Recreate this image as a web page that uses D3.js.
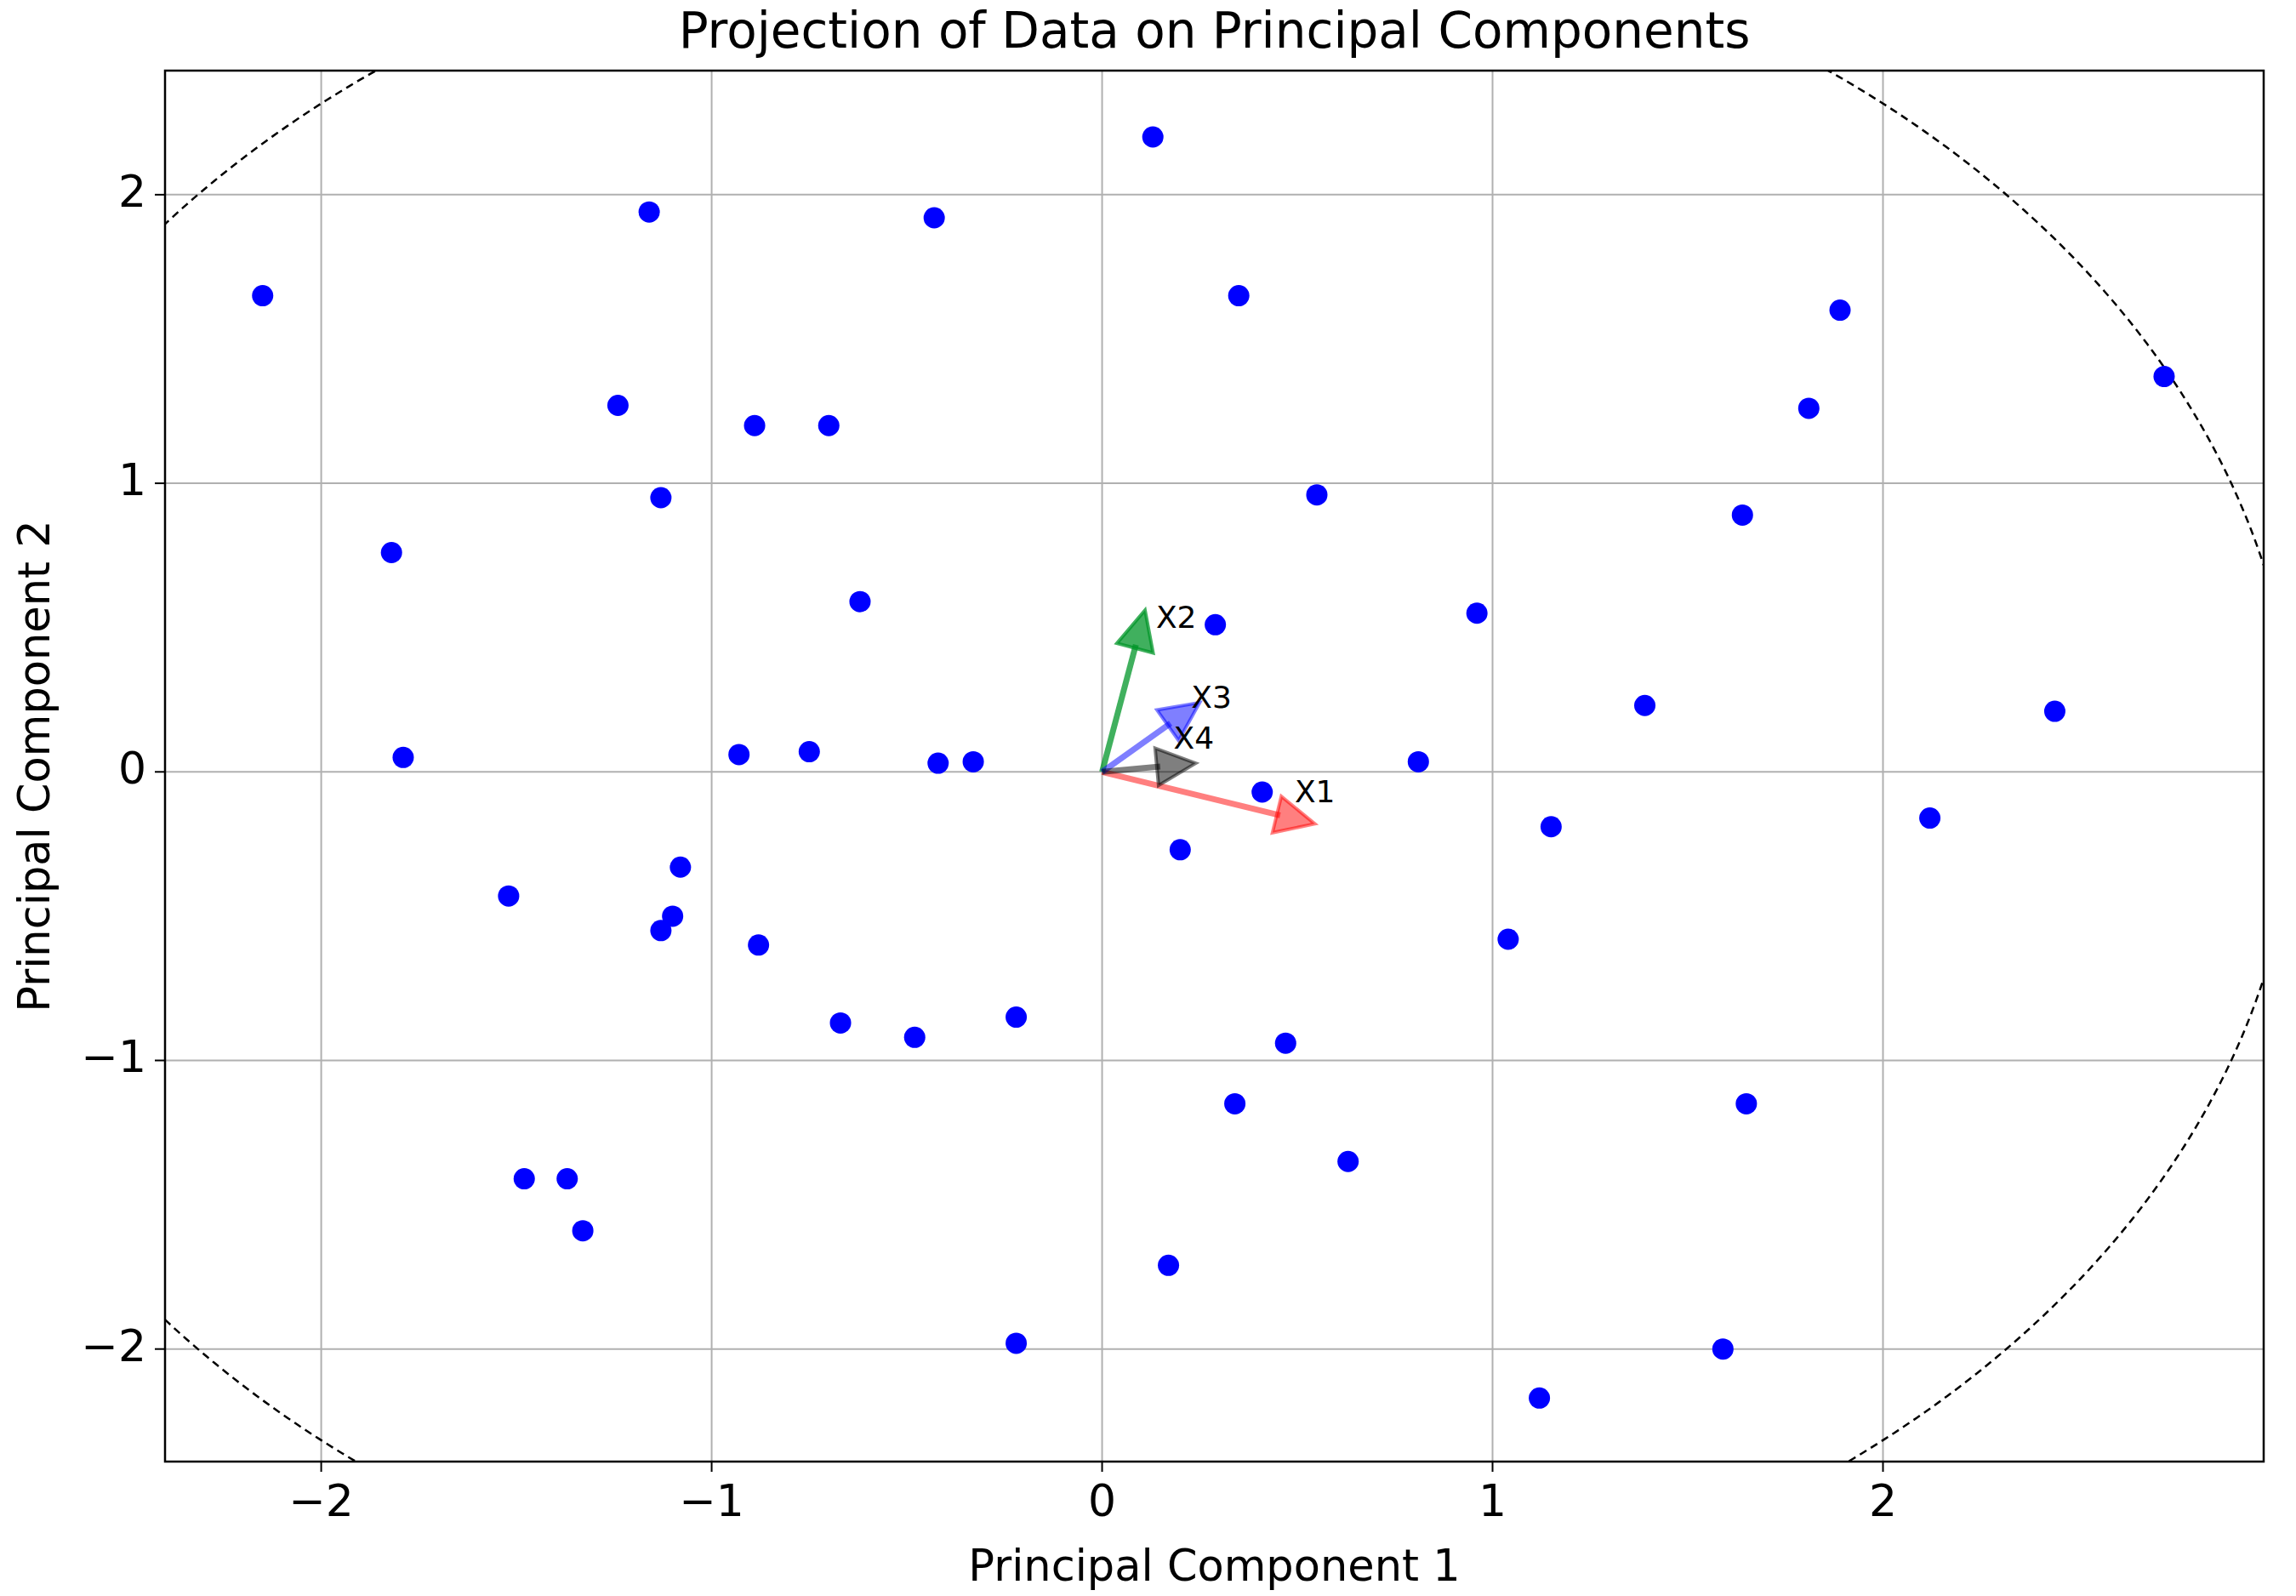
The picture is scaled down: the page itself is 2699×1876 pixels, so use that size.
<!DOCTYPE html><html><head><meta charset="utf-8">
<script src="https://cdn.jsdelivr.net/npm/d3@7"></script>
<style>body{margin:0;background:#fff}</style></head><body>
<script>
const pcX=[-2.15,-1.16,-0.43,0.13,0.35,1.89,2.72,1.81,-1.24,-0.89,-0.70,-1.13,0.55,1.64,-1.82,-0.62,0.29,0.96,1.39,2.44,-1.79,-0.93,-0.75,-0.42,-0.33,0.81,0.41,0.20,1.15,2.12,-1.52,-1.08,-1.10,-1.13,-0.88,1.04,-0.67,-0.48,-0.22,0.47,0.34,1.65,0.63,-1.48,-1.37,-1.33,0.17,-0.22,1.59,1.12];
const pcY=[1.65,1.94,1.92,2.2,1.65,1.6,1.37,1.26,1.27,1.2,1.2,0.95,0.96,0.89,0.76,0.59,0.51,0.55,0.23,0.21,0.05,0.06,0.07,0.03,0.035,0.035,-0.07,-0.27,-0.19,-0.16,-0.43,-0.33,-0.50,-0.55,-0.60,-0.58,-0.87,-0.92,-0.85,-0.94,-1.15,-1.15,-1.35,-1.41,-1.41,-1.59,-1.71,-1.98,-2.0,-2.17];
const loadNames=["X1","X2","X3","X4"];
const loadX=[0.545,0.11,0.25,0.24];
const loadY=[-0.18,0.56,0.24,0.03];
const loadLabelX=[0.545,0.19,0.28,0.235];
const loadLabelY=[-0.075,0.53,0.25,0.11];
const loadColors=["rgba(255,0,0,0.5)","rgba(0,150,40,0.75)","rgba(0,0,255,0.5)","rgba(0,0,0,0.5)"];
const circleR=3.06;
const ticks=[-2,-1,0,1,2];

const W=2699,H=1876,L=194,R=2661,T=83,B=1718;
const svg=d3.select("body").append("svg").attr("width",W).attr("height",H).style("font-family","DejaVu Sans");
const x=d3.scaleLinear().domain([-2.40,2.975]).range([L,R]);
const y=d3.scaleLinear().domain([-2.39,2.43]).range([B,T]);
svg.append("defs").append("clipPath").attr("id","c").append("rect").attr("x",L).attr("y",T).attr("width",R-L).attr("height",B-T);
const g=svg.append("g");
g.selectAll(".gx").data(ticks).enter().append("line").attr("x1",d=>x(d)).attr("x2",d=>x(d)).attr("y1",T).attr("y2",B).attr("stroke","#b0b0b0").attr("stroke-width",2);
g.selectAll(".gy").data(ticks).enter().append("line").attr("y1",d=>y(d)).attr("y2",d=>y(d)).attr("x1",L).attr("x2",R).attr("stroke","#b0b0b0").attr("stroke-width",2);
const p=svg.append("g").attr("clip-path","url(#c)");
const cx=[];for(let i=0;i<=720;i++)cx.push(i/720*2*Math.PI);
p.append("path").attr("d",d3.line().x(a=>x(circleR*Math.cos(a))).y(a=>y(circleR*Math.sin(a)))(cx)).attr("fill","none").attr("stroke","#000").attr("stroke-width",2.5).attr("stroke-dasharray","9,6");
p.selectAll("circle").data(pcX).enter().append("circle").attr("cx",d=>x(d)).attr("cy",(d,i)=>y(pcY[i])).attr("r",12.5).attr("fill","#0000ff");
loadNames.forEach((n,i)=>{
  const x0=x(0),y0=y(0),x1=x(loadX[i]),y1=y(loadY[i]);
  const dx=x1-x0,dy=y1-y0,len=Math.hypot(dx,dy),ux=dx/len,uy=dy/len,hl=46,hw=22;
  const bx=x1-ux*hl,by=y1-uy*hl;
  p.append("line").attr("x1",x0).attr("y1",y0).attr("x2",bx+ux*4).attr("y2",by+uy*4).attr("stroke",loadColors[i]).attr("stroke-width",7);
  p.append("path").attr("d",`M${x1},${y1}L${bx-uy*hw},${by+ux*hw}L${bx+uy*hw},${by-ux*hw}Z`).attr("fill",loadColors[i]).attr("stroke",loadColors[i]).attr("stroke-width",4).attr("stroke-linejoin","miter");
  svg.append("text").attr("x",x(loadLabelX[i])).attr("y",y(loadLabelY[i])).attr("text-anchor","middle").attr("dominant-baseline","middle").attr("font-size",36).text(n);
});
svg.append("rect").attr("x",L).attr("y",T).attr("width",R-L).attr("height",B-T).attr("fill","none").attr("stroke","#000").attr("stroke-width",2.5);
ticks.forEach(t=>{
  svg.append("line").attr("x1",x(t)).attr("x2",x(t)).attr("y1",B).attr("y2",B+12).attr("stroke","#000").attr("stroke-width",2);
  svg.append("text").attr("x",x(t)).attr("y",B+64).attr("text-anchor","middle").attr("font-size",52).text(t<0?"\u2212"+(-t):t);
  svg.append("line").attr("y1",y(t)).attr("y2",y(t)).attr("x1",L-12).attr("x2",L).attr("stroke","#000").attr("stroke-width",2);
  svg.append("text").attr("x",L-22).attr("y",y(t)).attr("text-anchor","end").attr("dominant-baseline","middle").attr("font-size",52).text(t<0?"\u2212"+(-t):t);
});
svg.append("text").attr("x",(L+R)/2).attr("y",1858).attr("text-anchor","middle").attr("font-size",51).text("Principal Component 1");
svg.append("text").attr("transform",`translate(58,${(T+B)/2}) rotate(-90)`).attr("text-anchor","middle").attr("font-size",51).text("Principal Component 2");
svg.append("text").attr("x",(L+R)/2).attr("y",56).attr("text-anchor","middle").attr("font-size",58).text("Projection of Data on Principal Components");
</script></body></html>
